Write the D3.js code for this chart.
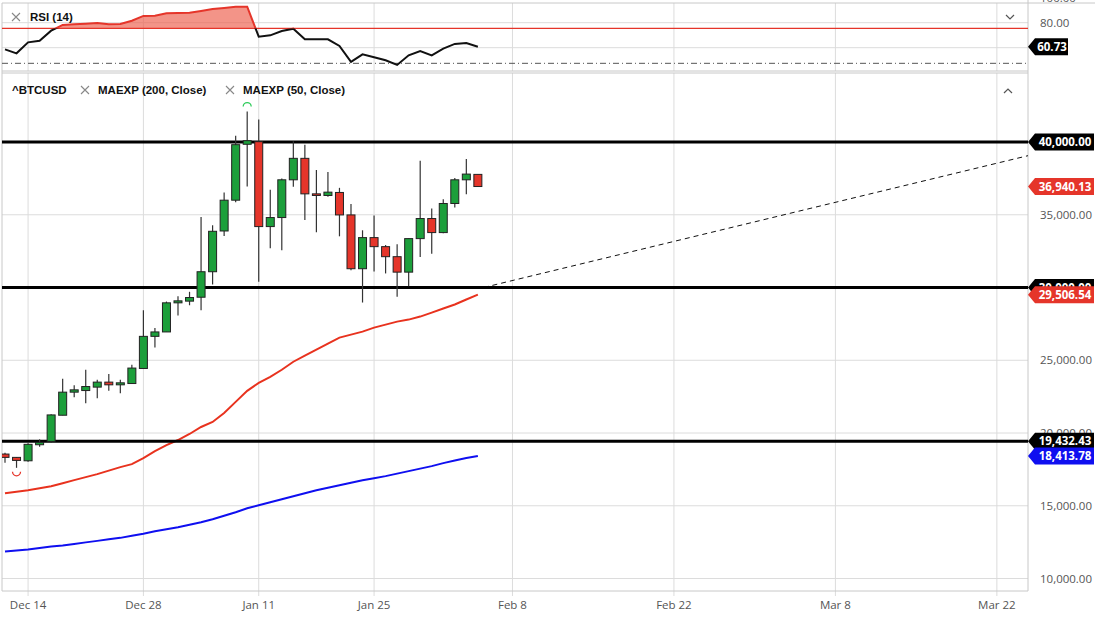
<!DOCTYPE html>
<html>
<head>
<meta charset="utf-8">
<script src="https://cdn.jsdelivr.net/npm/d3@7"></script>
<style>
  body { margin: 0; background: #fff; }
  svg { display: block; font-family: "Open Sans", sans-serif; }
</style>
</head>
<body>
<div id="chart"></div>
<script>
// ^BTCUSD daily candles (weekdays), Dec 10 2020 -> Feb 5 2021
const opens  = [18552, 18324, 18090, 19193, 19428, 21221, 22807, 22918, 23153, 23497, 23311, 23400, 24435, 26642, 26946, 28946, 29063, 29332, 31084, 33884, 36001, 39843, 40022, 34187, 34808, 37402, 38877, 36436, 36325, 36532, 34988, 31291, 33429, 32808, 32118, 31056, 33360, 34740, 33774, 35774, 37402, 37774];
const highs  = [18642, 18345, 19290, 19566, 21290, 23724, 23290, 24346, 23656, 24049, 23656, 24690, 28435, 27221, 29035, 29401, 29704, 34850, 34277, 36532, 40437, 42092, 41540, 36712, 37498, 40050, 39816, 38070, 37933, 36850, 35746, 33932, 34946, 32918, 32966, 33360, 38712, 35429, 36070, 37519, 38829, 37774];
const lows   = [17952, 17607, 18021, 19056, 19311, 21221, 22463, 22049, 22394, 22897, 22738, 23400, 24435, 25883, 26946, 28070, 28780, 28435, 30208, 33540, 35864, 36946, 30394, 32690, 32553, 36918, 34643, 33794, 36229, 33518, 31194, 28967, 31105, 30967, 29360, 30091, 32091, 32325, 33725, 35498, 36415, 36940.13];
const closes = [18324, 18117, 19221, 19359, 21242, 22807, 22966, 23194, 23497, 23311, 23449, 24463, 26642, 26946, 28946, 29083, 29311, 31084, 33863, 36001, 39816, 40091, 34187, 34808, 37402, 38877, 36436, 36325, 36553, 34988, 31291, 33429, 32808, 32118, 31056, 33360, 34740, 33774, 35774, 37402, 37795, 36940.13];

const ema50  = [15862, 15966, 16069, 16207, 16345, 16552, 16759, 16966, 17172, 17414, 17655, 17862, 18276, 18759, 19173, 19518, 19932, 20414, 20759, 21380, 22139, 22897, 23449, 23863, 24346, 24898, 25311, 25725, 26139, 26553, 26760, 26967, 27242, 27449, 27656, 27794, 28001, 28277, 28553, 28829, 29174, 29506.54];
const ema200 = [11862, 11931, 12000, 12104, 12207, 12276, 12379, 12483, 12586, 12690, 12793, 12931, 13069, 13241, 13380, 13517, 13690, 13862, 14069, 14311, 14552, 14828, 15035, 15242, 15449, 15655, 15862, 16069, 16242, 16414, 16586, 16759, 16897, 17035, 17207, 17380, 17552, 17724, 17931, 18104, 18276, 18413.78];
const rsi14  = [58.7, 55.5, 64.3, 65.6, 73.6, 78.2, 78.7, 79.2, 79.8, 78.7, 79, 81.6, 85.4, 85.6, 87.5, 87.8, 88, 89.4, 91, 91.8, 92.8, 92.8, 68.8, 69.9, 73.4, 75.2, 66.7, 66.7, 66.7, 61.4, 48.6, 54.7, 52.3, 49.9, 46.2, 53.9, 57.4, 53.9, 59.2, 63, 63.8, 60.73];

// x axis: candle index (trading days, then calendar days after the data)
const tickLabels = ["Dec 14", "Dec 28", "Jan 11", "Jan 25", "Feb 8", "Feb 22", "Mar 8", "Mar 22"];
const tickIdx    = [2, 12, 22, 32, 44, 58, 72, 86];
const priceTicks = [10000, 15000, 20000, 25000, 30000, 35000, 40000];
const rsiTicks   = [100, 80];
const levels     = [40000, 30000, 19432.43];
const rsiUpper = 75.5, rsiLower = 47.5;
const trendIdx = [41.5, 88.7];
const trendVal = [30000, 39060];

const width = 1101, height = 619;
const left = 2, right = 1028;
const rsiTop = 3, rsiBottom = 71, mainTop = 73, mainBottom = 591;
const green = "#1c9f3b", red = "#e5352a", blue = "#0f0ff0";

const svg = d3.select("#chart").append("svg")
    .attr("width", width)
    .attr("height", height);

const x = d3.scaleLinear().domain([-0.26, 88.7]).range([left, right]);
const y = d3.scaleLinear().domain([10000, 40000]).range([578.5, 142]);
const yR = d3.scaleLinear().domain([80, 60]).range([22.7, 47.7]);

const defs = svg.append("defs");
function clip(id, x0, y0, w, h) {
    defs.append("clipPath").attr("id", id)
        .append("rect").attr("x", x0).attr("y", y0).attr("width", w).attr("height", h);
}
clip("mainClip", left, mainTop, right - left, mainBottom - mainTop);
clip("rsiClip", left, rsiTop, right - left, rsiBottom - rsiTop);
clip("rsiAbove", left, rsiTop, right - left, yR(rsiUpper) - rsiTop);
clip("rsiBelow", left, yR(rsiUpper), right - left, rsiBottom - yR(rsiUpper));

// grid
const grid = svg.append("g").attr("stroke", "#dcdcdc").attr("stroke-width", 1);
grid.selectAll(".hgrid").data(priceTicks).join("line")
    .attr("x1", left).attr("x2", right)
    .attr("y1", d => y(d)).attr("y2", d => y(d));
grid.selectAll(".rgrid").data([80, 60]).join("line")
    .attr("x1", left).attr("x2", right)
    .attr("y1", d => yR(d)).attr("y2", d => yR(d));
grid.selectAll(".vgridR").data(tickIdx).join("line")
    .attr("x1", d => x(d)).attr("x2", d => x(d))
    .attr("y1", rsiTop).attr("y2", rsiBottom);
grid.selectAll(".vgridM").data(tickIdx).join("line")
    .attr("x1", d => x(d)).attr("x2", d => x(d))
    .attr("y1", mainTop).attr("y2", mainBottom + 5);

// panel borders
const border = svg.append("g").attr("stroke", "#c8c8c8").attr("stroke-width", 1);
border.append("line").attr("x1", left).attr("x2", 1095).attr("y1", rsiTop).attr("y2", rsiTop);
border.append("line").attr("x1", left).attr("x2", right).attr("y1", rsiBottom).attr("y2", rsiBottom);
border.append("line").attr("x1", left).attr("x2", right).attr("y1", mainTop).attr("y2", mainTop);
border.append("line").attr("x1", left).attr("x2", right).attr("y1", mainBottom).attr("y2", mainBottom);
border.append("line").attr("x1", left).attr("x2", left).attr("y1", rsiTop).attr("y2", mainBottom);
border.append("line").attr("x1", right).attr("x2", right).attr("y1", 0).attr("y2", mainBottom);

// RSI panel
const rsiG = svg.append("g").attr("clip-path", "url(#rsiClip)");
rsiG.append("path")
    .datum(rsi14)
    .attr("clip-path", "url(#rsiAbove)")
    .attr("fill", "rgba(236, 90, 72, 0.65)")
    .attr("d", d3.area().x((d, i) => x(i)).y0(yR(rsiUpper)).y1(d => yR(d)));
rsiG.append("line")
    .attr("x1", left).attr("x2", right)
    .attr("y1", yR(rsiUpper)).attr("y2", yR(rsiUpper))
    .attr("stroke", red).attr("stroke-width", 1.2);
rsiG.append("line")
    .attr("x1", left).attr("x2", right)
    .attr("y1", yR(rsiLower)).attr("y2", yR(rsiLower))
    .attr("stroke", "#555").attr("stroke-width", 1)
    .attr("stroke-dasharray", "6,3,1,3");
const rsiLine = d3.line().x((d, i) => x(i)).y(d => yR(d));
rsiG.append("path").datum(rsi14)
    .attr("clip-path", "url(#rsiBelow)")
    .attr("fill", "none").attr("stroke", "#111").attr("stroke-width", 2)
    .attr("d", rsiLine);
rsiG.append("path").datum(rsi14)
    .attr("clip-path", "url(#rsiAbove)")
    .attr("fill", "none").attr("stroke", red).attr("stroke-width", 2)
    .attr("d", rsiLine);

// main panel
const main = svg.append("g").attr("clip-path", "url(#mainClip)");

main.append("path").datum(ema200)
    .attr("fill", "none").attr("stroke", blue).attr("stroke-width", 2)
    .attr("d", d3.line().x((d, i) => x(i)).y(d => y(d)));
main.append("path").datum(ema50)
    .attr("fill", "none").attr("stroke", "#e8321e").attr("stroke-width", 2)
    .attr("d", d3.line().x((d, i) => x(i)).y(d => y(d)));

main.append("line")
    .attr("x1", x(trendIdx[0])).attr("x2", x(trendIdx[1]))
    .attr("y1", y(trendVal[0])).attr("y2", y(trendVal[1]))
    .attr("stroke", "#111").attr("stroke-width", 1)
    .attr("stroke-dasharray", "5,4");

main.selectAll(".level").data(levels).join("line")
    .attr("x1", left).attr("x2", right)
    .attr("y1", d => y(d)).attr("y2", d => y(d))
    .attr("stroke", "#000").attr("stroke-width", 3);

const candles = opens.map((o, i) => ({i, o, h: highs[i], l: lows[i], c: closes[i]}));
main.selectAll(".wick").data(candles).join("line")
    .attr("x1", d => x(d.i)).attr("x2", d => x(d.i))
    .attr("y1", d => y(d.h)).attr("y2", d => y(d.l))
    .attr("stroke", "#333").attr("stroke-width", 1.2);
main.selectAll(".body").data(candles).join("rect")
    .attr("x", d => x(d.i) - 4)
    .attr("width", 8)
    .attr("y", d => y(Math.max(d.o, d.c)))
    .attr("height", d => Math.max(1.5, y(Math.min(d.o, d.c)) - y(Math.max(d.o, d.c))))
    .attr("fill", d => d.c >= d.o ? green : red)
    .attr("stroke", "#222").attr("stroke-width", 1);

// pivot markers
const hi = 21, lo = 1;
main.append("path")
    .attr("d", `M${x(hi) - 4},${y(highs[hi]) - 5} A4,4 0 0 1 ${x(hi) + 4},${y(highs[hi]) - 5}`)
    .attr("fill", "none").attr("stroke", "#2ecc5a").attr("stroke-width", 1.3);
main.append("path")
    .attr("d", `M${x(lo) - 4},${y(lows[lo]) + 4} A4,4 0 0 0 ${x(lo) + 4},${y(lows[lo]) + 4}`)
    .attr("fill", "none").attr("stroke", red).attr("stroke-width", 1.3);

// axes labels
const fmt = d3.format(",.2f");
svg.append("g").selectAll("text").data(priceTicks).join("text")
    .attr("x", 1040).attr("y", d => y(d)).attr("dy", "0.35em")
    .attr("fill", "#555").style("font-size", "11.5px")
    .text(d => fmt(d));
svg.append("g").selectAll("text").data(rsiTicks).join("text")
    .attr("x", 1040).attr("y", d => yR(d)).attr("dy", "0.35em")
    .attr("fill", "#555").style("font-size", "11.5px")
    .text(d => fmt(d));
svg.append("g").selectAll("text").data(tickLabels).join("text")
    .attr("x", (d, i) => x(tickIdx[i])).attr("y", 605).attr("dy", "0.35em")
    .attr("text-anchor", "middle")
    .attr("fill", "#555").style("font-size", "11.5px")
    .text(d => d);

// value tags on the price axis
function tag(yc, w, fill, value) {
    const g = svg.append("g");
    g.append("path")
        .attr("d", `M${right},${yc} L${right + 7},${yc - 8.5} L${right + w},${yc - 8.5} L${right + w},${yc + 8.5} L${right + 7},${yc + 8.5} Z`)
        .attr("fill", fill);
    g.append("text")
        .attr("x", right + 4 + w / 2).attr("y", yc).attr("dy", "0.36em")
        .attr("text-anchor", "middle")
        .attr("fill", "#fff").style("font-size", "11.5px").style("font-weight", "bold")
        .text(value);
}
tag(y(levels[0]), 66, "#000", fmt(levels[0]));
tag(y(closes[closes.length - 1]), 66, red, fmt(closes[closes.length - 1]));
tag(y(levels[1]), 66, "#000", fmt(levels[1]));
tag(y(ema50[ema50.length - 1]), 66, red, fmt(ema50[ema50.length - 1]));
tag(y(levels[2]), 66, "#000", fmt(levels[2]));
tag(y(ema200[ema200.length - 1]), 66, blue, fmt(ema200[ema200.length - 1]));
tag(yR(rsi14[rsi14.length - 1]), 40, "#000", fmt(rsi14[rsi14.length - 1]));

// legends
const legend = svg.append("g").style("font-family", "'Liberation Sans', Arial, sans-serif");
function closeMark(cx, cy) {
    legend.append("path")
        .attr("d", `M${cx - 4},${cy - 4} L${cx + 4},${cy + 4} M${cx + 4},${cy - 4} L${cx - 4},${cy + 4}`)
        .attr("stroke", "#888").attr("stroke-width", 1.1);
}
closeMark(16, 17);
legend.append("text").attr("x", 30).attr("y", 17).attr("dy", "0.35em")
    .attr("fill", "#111").style("font-size", "11.5px").style("font-weight", "bold").text("RSI (14)");
legend.append("text").attr("x", 12).attr("y", 90).attr("dy", "0.35em")
    .attr("fill", "#111").style("font-size", "11.5px").style("font-weight", "bold").text("^BTCUSD");
closeMark(85, 90);
legend.append("text").attr("x", 98).attr("y", 90).attr("dy", "0.35em")
    .attr("fill", "#111").style("font-size", "11.5px").style("font-weight", "bold").text("MAEXP (200, Close)");
closeMark(230, 90);
legend.append("text").attr("x", 243).attr("y", 90).attr("dy", "0.35em")
    .attr("fill", "#111").style("font-size", "11.5px").style("font-weight", "bold").text("MAEXP (50, Close)");

// panel chevrons
svg.append("path").attr("d", "M1006,15 L1010,19 L1014,15")
    .attr("fill", "none").attr("stroke", "#555").attr("stroke-width", 1.2);
svg.append("path").attr("d", "M1004,93 L1008,89 L1012,93")
    .attr("fill", "none").attr("stroke", "#555").attr("stroke-width", 1.2);
</script>
</body>
</html>
